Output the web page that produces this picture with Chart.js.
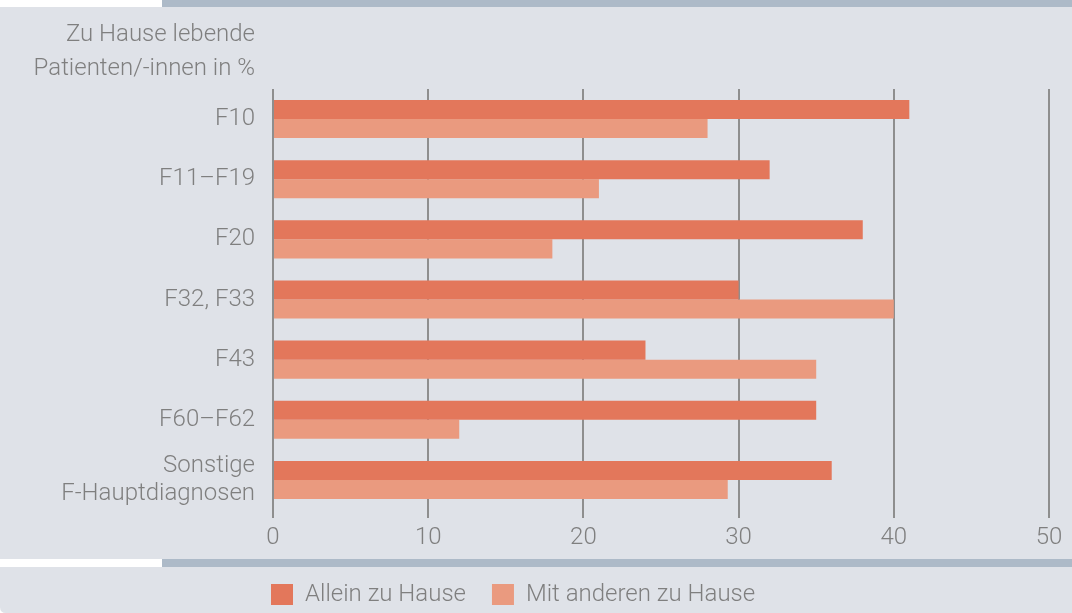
<!DOCTYPE html>
<html>
<head>
<meta charset="utf-8">
<title>index</title>
<script src="https://cdn.jsdelivr.net/npm/chart.js@4"></script>
<style>
  html, body { margin: 0; padding: 0; background: #ffffff; }
  canvas { display: block; }
</style>
</head>
<body>
<canvas id="myChart" width="1072" height="613"></canvas>
<script>
// Daten
const categories = ["F10", "F11–F19", "F20", "F32, F33", "F43", "F60–F62", ["Sonstige", "F-Hauptdiagnosen"]];
const alleinZuHause = [41, 32, 38, 30, 24, 35, 36];
const mitAnderenZuHause = [28, 21, 18, 40, 35, 12, 29.3];
const seriesLabels = ["Allein zu Hause", "Mit anderen zu Hause"];
const axisTitle = ["Zu Hause lebende", "Patienten/-innen in %"];
const xMin = 0;
const xMax = 50;
const xStep = 10;

const textColor = "#7f7f7f";
const gridColor = "#8e8e8e";
const fontFamily = "Roboto, 'Liberation Sans', sans-serif";

// Hintergrund, Titel und Legende verschieben
const backgroundPlugin = {
  id: "background",
  afterLayout(chart) {
    // Legende unter der Achse einruecken
    chart.legend.left = 245;
    chart.legend.top = 557;
    // sonst werden die Zahlen der x-Achse abgeschnitten
    chart.scales.x.bottom = 557;
  },
  beforeDraw(chart) {
    const ctx = chart.ctx;
    ctx.save();
    ctx.fillStyle = "#ffffff";
    ctx.fillRect(0, 0, chart.width, chart.height);
    ctx.fillStyle = "#dfe2e8";
    ctx.fillRect(0, 7, chart.width, 552);
    ctx.beginPath();
    ctx.moveTo(0, 567);
    ctx.lineTo(chart.width, 567);
    ctx.lineTo(chart.width, chart.height);
    ctx.lineTo(6, chart.height);
    ctx.quadraticCurveTo(0, chart.height, 0, chart.height - 6);
    ctx.closePath();
    ctx.fill();
    ctx.fillStyle = "#adbac8";
    ctx.fillRect(162, 0, chart.width - 162, 7);
    ctx.fillRect(162, 559, chart.width - 162, 8);
    ctx.restore();
  },
  afterDraw(chart) {
    const ctx = chart.ctx;
    ctx.save();
    ctx.font = "300 24px " + fontFamily;
    ctx.fillStyle = textColor;
    ctx.textAlign = "right";
    ctx.textBaseline = "alphabetic";
    ctx.fillText(axisTitle[0], 255, 41);
    ctx.fillText(axisTitle[1], 255, 75);
    ctx.restore();
  }
};

const data = {
  labels: categories,
  datasets: [
    {
      label: seriesLabels[0],
      data: alleinZuHause,
      backgroundColor: "#e3775b",
      borderWidth: 0
    },
    {
      label: seriesLabels[1],
      data: mitAnderenZuHause,
      backgroundColor: "#ea9a7f",
      borderWidth: 0
    }
  ]
};

const config = {
  type: "bar",
  data: data,
  plugins: [backgroundPlugin],
  options: {
    indexAxis: "y",
    responsive: false,
    animation: false,
    layout: {
      padding: { left: 0, right: 23, top: 89, bottom: 8 }
    },
    datasets: {
      bar: { categoryPercentage: 38 / 60, barPercentage: 1 }
    },
    plugins: {
      tooltip: { enabled: false },
      legend: {
        position: "bottom",
        align: "start",
        labels: {
          boxWidth: 22,
          boxHeight: 22,
          padding: 26,
          color: textColor,
          font: { family: fontFamily, size: 24, weight: "300" }
        }
      }
    },
    scales: {
      x: {
        min: xMin,
        max: xMax,
        afterFit(scale) { scale.height = 35; },
        ticks: {
          stepSize: xStep,
          padding: 6,
          color: textColor,
          font: { family: fontFamily, size: 24, weight: "300" }
        },
        grid: {
          color: gridColor,
          lineWidth: 2,
          tickLength: 8,
          drawTicks: true
        },
        border: { display: false }
      },
      y: {
        afterFit(scale) { scale.width = 273; },
        ticks: {
          padding: 18,
          color: textColor,
          font: { family: fontFamily, size: 24, weight: "300", lineHeight: 1.15 }
        },
        grid: { display: false, drawTicks: false },
        border: { display: false }
      }
    }
  }
};

const context = document.getElementById("myChart").getContext("2d");
const chart = new Chart(context, config);
</script>
</body>
</html>
